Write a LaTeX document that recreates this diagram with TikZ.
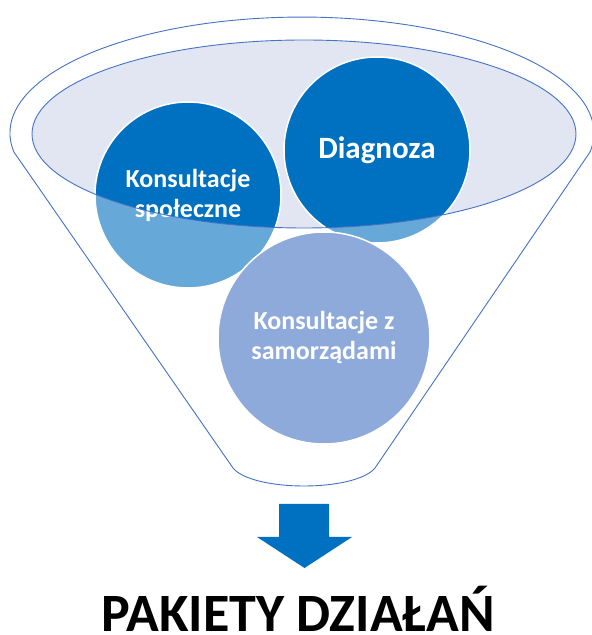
\documentclass[tikz,border=0pt]{standalone}
\usepackage{fontspec}
\setmainfont{Carlito}
\definecolor{funnelline}{HTML}{4472C4}
\definecolor{rimfill}{HTML}{E1E6F2}
\definecolor{darkblue}{HTML}{0070C0}
\definecolor{midblue}{HTML}{4472C4}
\newcommand{\funnelpath}{(13.9,483) arc[start angle=189.4,end angle=-9.4,x radius=292,y radius=116] -- (375,167) .. controls (355,143) and (253,143) .. (233,167) -- cycle}
\newcommand{\rimpath}{(304,501) ellipse [x radius=272,y radius=94]}

\begin{document}
\begin{tikzpicture}[x=1pt,y=1pt,
  bubble/.style={circle,draw=white,line width=1.5pt,text=white,align=center,inner sep=0pt,font=\bfseries\fontsize{26}{30}\selectfont},
  rim/.style={draw=funnelline,line width=0.9pt}]
\useasboundingbox (0,0) rectangle (592,635);

% funnel
\fill [white] \funnelpath;
\fill [rimfill] \rimpath;

\node (spol) at (188,440) [bubble,fill=darkblue,minimum size=186pt]{Konsultacje\\społeczne};
\node (diag) at (377,485) [bubble,fill=darkblue,minimum size=186pt,font=\bfseries\fontsize{31}{36}\selectfont]{Diagnoza};
\node (samo) at (324,297) [bubble,fill=midblue,minimum size=212pt]{Konsultacje z\\samorządami};

% lower part of the funnel
\fill [white,opacity=0.4,even odd rule] \funnelpath \rimpath;
\draw [rim] \rimpath;
\draw [rim] \funnelpath;

% arrow
\fill [darkblue] (279,131) -- (329,131) -- (329,98) -- (352,98) -- (304.5,67) -- (257,98) -- (279,98) -- cycle;

\node (title) at (298,3) [anchor=base,inner sep=0pt,font=\bfseries\fontsize{54}{60}\selectfont]{PAKIETY DZIAŁAŃ};
\end{tikzpicture}
\end{document}
